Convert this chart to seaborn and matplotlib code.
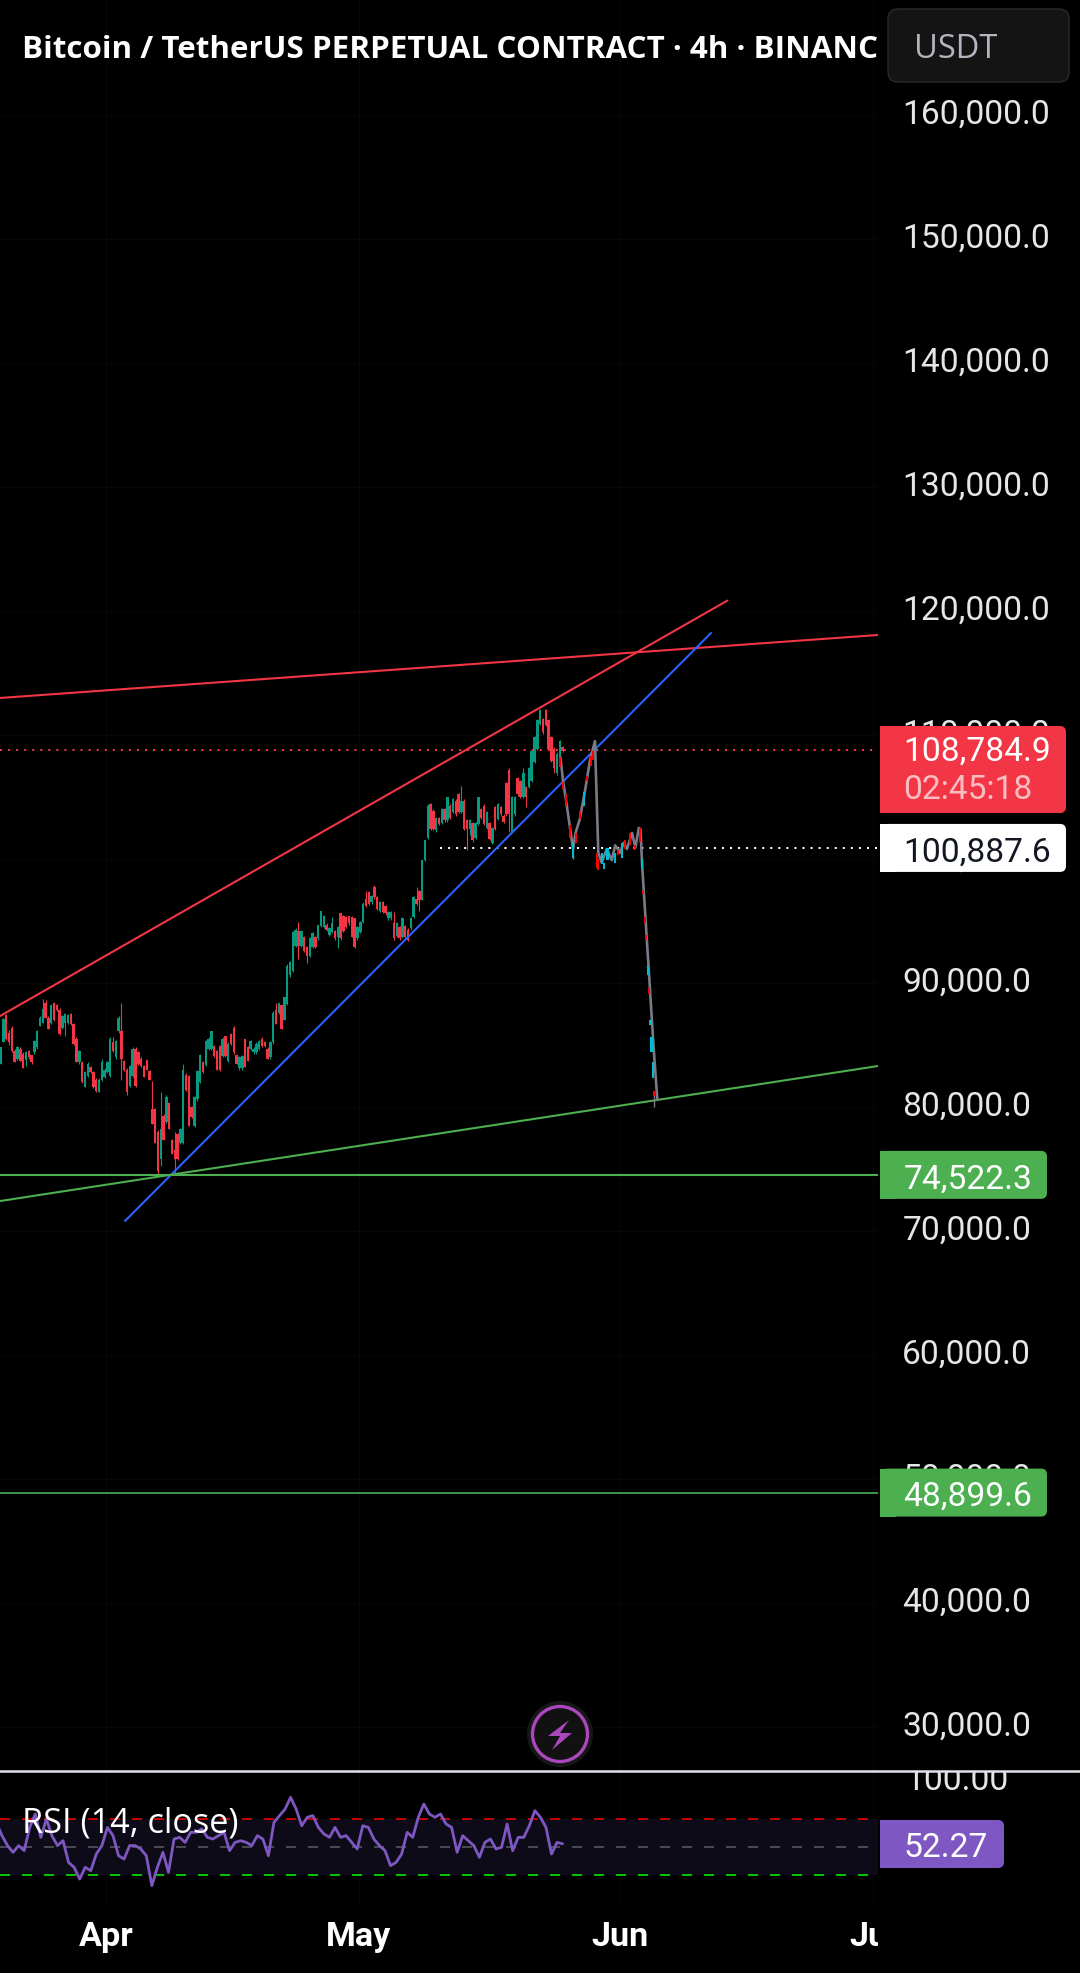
import matplotlib
matplotlib.use("Agg")
import matplotlib.pyplot as plt
import matplotlib.dates as mdates
from matplotlib.patches import Circle, FancyBboxPatch, Polygon, Rectangle
from matplotlib.transforms import ScaledTranslation
import numpy as np
import pandas as pd
import seaborn as sns

# Candle values in thousands of USDT
open_k = [
    83.5,85.2,87.4,86.0,86.4,84.5,83.9,84.7,84.3,83.8,
    84.5,84.2,84.4,84.8,86.5,86.8,88.4,87.2,86.8,88.4,
    88.2,87.8,86.4,86.8,86.8,87.5,86.7,85.5,83.6,83.6,
    81.6,82.5,83.2,82.8,82.2,81.2,82.2,82.4,82.8,82.5,
    85.2,84.0,86.1,86.1,83.7,83.0,81.7,82.5,84.7,84.4,
    83.9,83.3,83.8,82.9,79.8,79.8,78.0,75.8,79.3,78.8,
    80.3,77.3,76.5,77.8,77.1,77.1,82.6,82.5,80.0,78.5,
    80.6,82.0,83.6,83.4,84.7,84.7,84.9,84.5,84.9,84.1,
    85.7,83.7,85.9,86.4,84.2,83.1,83.1,85.5,84.8,84.7,
    84.4,84.4,84.7,85.5,85.2,84.7,84.0,85.2,87.8,87.6,
    88.2,87.0,88.3,90.6,91.0,93.0,94.2,93.0,93.7,92.9,
    92.2,92.9,93.7,93.6,94.6,94.5,94.7,93.9,94.1,94.2,
    93.7,95.6,95.4,95.3,95.4,95.3,95.2,93.6,94.1,94.9,
    96.8,97.3,96.5,97.7,96.9,95.8,96.5,96.2,95.2,95.2,
    94.8,93.8,94.5,93.7,94.6,94.3,94.4,95.3,96.8,97.4,
    96.7,99.9,101.7,104.4,103.9,102.3,103.3,102.9,104.0,103.1,
    104.3,103.8,104.7,105.2,103.8,104.7,103.1,102.4,102.9,101.7,
    102.8,104.0,104.3,102.5,102.9,101.3,104.2,103.2,104.2,103.5,
    106.1,107.2,102.2,103.6,106.5,106.3,105.0,105.8,105.8,106.3,
    107.8,108.9,110.9,111.3,112.0,111.2,109.8,108.9,106.9,107.9,109.0,
]
close_k = [
    84.8,87.1,85.5,85.2,84.5,83.6,84.8,83.7,83.1,84.4,
    84.0,83.6,85.3,86.1,87.2,87.9,87.2,86.3,88.2,87.0,
    87.8,85.9,87.3,87.5,87.4,86.7,85.1,83.6,84.5,82.0,
    82.8,83.5,82.8,81.6,81.3,82.2,83.6,83.0,83.6,85.5,
    84.5,85.3,87.2,83.9,83.0,81.2,83.3,84.7,81.7,83.5,
    83.3,82.4,83.0,82.2,78.6,77.1,74.8,78.2,77.3,80.8,
    78.2,76.2,75.8,75.8,78.2,83.0,81.4,78.5,79.2,80.8,
    82.9,84.2,82.8,85.3,85.5,86.1,84.1,83.0,83.0,85.5,
    84.1,85.1,85.1,84.4,83.5,84.0,84.1,83.2,83.7,85.3,
    84.7,85.1,85.3,84.9,84.9,83.9,85.2,87.6,86.7,88.4,
    86.3,88.9,91.4,91.7,94.1,94.3,93.0,94.2,92.6,92.2,
    93.6,94.0,92.9,94.7,95.8,95.4,94.3,94.4,94.8,93.6,
    94.5,93.6,94.2,94.5,94.8,93.7,92.9,94.5,94.9,96.4,
    96.2,96.4,97.0,96.9,96.0,96.5,95.7,95.6,95.7,95.7,
    93.6,94.8,93.6,95.2,93.7,93.5,95.2,96.9,96.4,96.7,
    99.9,101.5,104.3,102.4,102.4,103.3,102.8,104.0,103.1,105.0,
    103.3,104.8,103.6,103.8,104.7,102.4,102.4,103.1,101.5,102.9,
    105.0,103.3,102.8,103.8,101.6,102.5,102.4,104.4,103.6,103.0,
    103.6,103.6,105.0,105.0,105.2,105.0,106.9,105.0,107.3,108.7,
    109.8,111.2,112.0,110.2,110.8,108.9,107.9,107.3,108.5,109.5,108.7,
]
high_k = [
    84.8,87.2,87.5,86.2,86.5,84.7,84.9,84.8,84.4,84.5,
    84.6,84.2,85.4,86.2,87.3,88.7,88.6,87.3,88.3,88.5,
    88.3,88.0,87.4,87.6,87.5,87.6,86.8,85.6,84.6,83.7,
    82.9,83.6,83.3,82.9,82.3,82.3,83.9,83.1,83.7,85.6,
    85.6,85.4,87.3,88.4,83.8,83.1,83.4,84.8,84.8,84.5,
    84.0,83.4,83.8,83.0,82.1,79.9,78.1,81.2,79.4,81.0,
    80.4,77.4,78.0,77.9,78.3,83.5,82.7,82.6,80.1,80.9,
    83.0,84.3,83.7,85.4,85.6,86.1,85.0,84.6,85.0,85.6,
    85.7,85.2,86.0,86.5,84.3,84.1,84.2,85.5,84.9,85.4,
    84.8,85.2,85.4,85.6,85.3,84.8,85.3,87.7,88.4,88.4,
    88.2,88.9,91.5,91.8,94.2,94.4,94.9,94.3,93.8,93.0,
    93.7,94.1,93.8,94.7,95.8,95.5,94.8,94.5,95.3,94.3,
    94.6,95.6,95.5,95.4,95.4,95.4,95.2,94.6,95.0,96.5,
    97.4,97.4,97.1,97.9,97.0,96.6,96.6,96.3,95.8,95.8,
    95.7,94.9,94.6,95.3,94.7,94.4,95.3,97.0,97.7,97.5,
    99.9,101.5,104.4,104.5,104.0,103.4,103.4,104.1,104.1,105.0,
    104.4,104.9,104.8,105.3,105.9,104.8,103.2,103.2,103.0,103.0,
    105.0,104.1,104.4,103.9,103.0,102.6,104.3,104.5,104.3,103.6,
    106.2,107.3,105.1,105.1,106.6,106.4,107.3,105.9,107.4,108.8,
    109.9,111.3,112.1,111.4,112.1,111.3,109.9,109.0,108.6,109.6,109.1,
]
low_k = [
    83.5,85.2,85.4,85.0,84.4,83.6,83.8,83.7,83.1,83.3,
    83.9,83.5,84.3,84.7,86.5,86.8,87.2,86.3,86.7,86.9,
    87.7,85.8,86.3,85.7,86.7,86.6,85.0,83.6,83.5,81.9,
    81.6,82.4,82.7,81.5,81.2,81.2,82.1,82.3,82.7,82.4,
    84.4,83.9,86.0,82.2,82.9,81.0,81.6,82.4,81.6,83.4,
    83.2,82.4,83.0,82.2,78.6,77.1,74.6,75.2,77.3,78.7,
    78.2,76.2,74.6,75.7,77.0,77.0,81.3,78.5,79.1,78.4,
    80.5,81.9,82.7,83.3,84.6,84.6,84.0,83.0,82.9,84.0,
    84.0,83.6,85.0,84.3,83.5,83.0,83.0,83.2,83.7,84.6,
    84.3,84.3,84.6,84.8,84.8,83.9,83.9,85.1,86.7,87.5,
    86.3,87.0,88.2,90.5,90.9,92.9,91.9,92.9,92.5,91.6,
    92.1,92.8,92.8,93.5,94.5,94.4,94.2,93.8,94.0,93.5,
    92.8,93.5,94.1,94.4,94.7,93.7,92.8,93.5,94.0,94.8,
    96.1,96.3,96.4,96.8,95.9,95.7,95.6,95.5,95.1,95.1,
    93.5,93.7,93.5,93.6,93.6,93.4,94.3,95.2,96.3,95.8,
    96.7,99.8,101.6,102.3,102.3,102.2,102.7,102.8,103.0,103.0,
    103.2,103.7,103.5,103.7,103.7,102.3,100.7,101.9,101.4,101.6,
    102.7,103.2,102.7,102.4,101.5,101.2,102.3,103.1,103.5,102.9,
    103.5,102.2,102.2,103.5,105.1,104.9,104.9,104.2,105.7,106.2,
    107.7,108.8,110.8,110.1,110.7,108.8,107.8,106.9,106.8,107.8,108.6,
]

# Bar replay path: days since 1 April and price in thousands
replay_day = [53.9,54.2,54.6,55.0,55.4,55.7,56.2,56.8,57.4,58.0,58.4,
              58.8,59.4,60.0,60.4,61.0,61.4,61.8,62.4,62.8,63.2,
              63.4,63.6,63.8,64.0,64.2,64.4,64.6,64.8,65.0,65.4]
replay_k = [108.2,106.4,104.6,102.7,100.8,102.1,103.2,105.4,107.9,109.5,100.5,
            99.7,100.8,99.9,101.1,100.5,101.3,100.8,102.1,100.9,102.5,
            102.4,99.5,97.3,95.2,93.0,90.9,88.7,86.5,84.4,80.6]

# Replay candles shown over the path
replay_bar_day = [53.9,54.2,54.6,55.0,55.4,55.8,56.2,56.7,57.1,57.5,57.8,
                  58.2,58.4,58.8,59.1,59.5,60.4,60.7,61.2,61.6,62.2,62.8,63.3,
                  63.6,63.7,63.9,64.1,64.3,64.4,64.6,64.7,64.9,65.0]
replay_bar_open = [108.2,106.2,105.2,102.7,100.1,102.1,103.9,104.3,106.7,108.3,108.7,
                   100.5,100.0,99.6,99.2,99.9,99.7,100.7,100.1,101.5,102.1,101.1,102.5,
                   99.2,97.4,95.3,93.9,90.6,89.6,86.6,84.4,82.3,81.3]
replay_bar_close = [107.4,105.6,104.3,101.7,101.3,101.3,103.2,105.4,106.3,107.5,108.0,
                    99.3,99.1,100.5,99.7,100.9,100.5,100.3,101.3,100.8,101.1,100.7,101.4,
                    100.0,97.2,94.8,93.5,91.4,89.1,87.0,85.6,83.6,80.9]
replay_wick_day = [55.4, 58.0, 65.0]
replay_wick_low = [100.0, 108.6, 80.0]
replay_wick_high = [101.3, 109.5, 81.3]

# Drawn trend lines: days since 1 April and price in thousands
red_top_day, red_top_k = [-12.57, 91.57], [112.98, 118.06]
red_wedge_day, red_wedge_k = [-12.57, 73.7], [87.33, 120.83]
blue_day, blue_k = [2.25, 71.77], [70.8, 118.22]
green_day, green_k = [-12.57, 91.57], [72.41, 83.3]

last_price = 108784.9
countdown = "02:45:18"
level_white = 100887.6
level_green_hi = 74522.3
level_green_lo = 48899.6
price_ticks = [30000, 40000, 50000, 60000, 70000, 80000, 90000, 100000,
               110000, 120000, 130000, 140000, 150000, 160000]

rsi_values = [
    67.6,58.1,51.0,46.2,51.0,47.4,64.0,73.6,56.9,70.0,58.1,51.0,54.5,39.0,35.5,27.1,35.5,33.1,
    45.0,51.0,64.0,58.1,43.8,41.4,51.0,51.0,48.6,43.8,22.4,35.5,46.2,31.9,55.7,56.9,53.3,60.5,
    60.5,62.9,56.9,55.7,58.1,60.5,47.4,53.3,54.5,53.3,51.0,58.1,55.7,43.8,67.6,72.4,77.1,85.5,
    77.1,65.2,71.2,72.4,64.0,59.3,56.9,64.0,56.9,58.1,53.3,48.6,65.2,64.0,55.7,51.0,47.4,36.7,
    39.0,45.0,60.5,56.9,71.2,80.7,73.6,71.2,73.6,66.4,64.0,46.2,58.1,54.5,51.0,42.6,53.3,55.7,
    48.6,49.8,66.4,47.4,56.9,56.9,65.2,76.0,71.2,64.0,45.0,53.3,52.27,
]
rsi_upper, rsi_middle, rsi_lower = 70, 50, 30

date_ticks = ["2025-04-01", "2025-05-01", "2025-06-01", "2025-07-01"]

# Colours
C_UP, C_DOWN = "#089981", "#F23645"
C_BLUE, C_GREEN = "#2962FF", "#4CAF50"
C_REPLAY = "#787B86"
C_REPLAY_UP, C_REPLAY_DOWN = "#00BCD4", "#FF0000"
C_RSI = "#7E57C2"
C_TEXT = "#E6E6E6"
C_GRID = "#070707"

W, H = 1080, 1974
PANE_W, SEP_Y, RSI_BOTTOM = 878, 1772, 1905
PX_PER_USDT = 0.0124
PX_PER_RSI = 1.4
AXIS_FONT = 24.2

sns.set_theme(style="dark", rc={
    "figure.facecolor": "black", "axes.facecolor": "black", "savefig.facecolor": "black",
    "axes.edgecolor": "black", "text.color": "white",
})
plt.rcParams["font.family"] = ["Roboto", "DejaVu Sans"]

base = pd.Timestamp(date_ticks[0])
to_time = lambda days: base + pd.to_timedelta(np.asarray(days, dtype=float), unit="D")
x_left = mdates.date2num(base) - 106 / 8.43
x_right = mdates.date2num(base) + (PANE_W - 106) / 8.43

fig = plt.figure(figsize=(W / 100, H / 100), dpi=100)
ax = fig.add_axes([0, 1 - SEP_Y / H, PANE_W / W, SEP_Y / H])
rsi_ax = fig.add_axes([0, 1 - RSI_BOTTOM / H, PANE_W / W, (RSI_BOTTOM - SEP_Y - 2) / H], sharex=ax)
over = fig.add_axes([0, 0, 1, 1], zorder=10)
over.set_xlim(0, W)
over.set_ylim(H, 0)
over.axis("off")
over.patch.set_alpha(0)

# Price pane
ax.set_ylim(last_price - (SEP_Y - 751) / PX_PER_USDT, last_price + 751 / PX_PER_USDT)
ax.set_xlim(x_left, x_right)
bar_time = pd.date_range("2025-03-19 12:00", periods=len(open_k), freq="8h")
candles = pd.DataFrame({"time": bar_time, "open": np.array(open_k) * 1000, "close": np.array(close_k) * 1000,
                        "high": np.array(high_k) * 1000, "low": np.array(low_k) * 1000})
candle_colors = np.where(candles["close"] >= candles["open"], C_UP, C_DOWN)
ax.vlines(candles["time"], candles["low"], candles["high"], colors=candle_colors, lw=0.8, zorder=3)
ax.bar(candles["time"], candles["close"] - candles["open"], bottom=candles["open"], width=0.29,
       color=candle_colors, linewidth=0, zorder=3)


def trend(days, prices_k, color):
    sns.lineplot(x=to_time(days), y=np.array(prices_k) * 1000, ax=ax, color=color, lw=1.5,
                 sort=False, estimator=None, zorder=5)


trend(red_top_day, red_top_k, C_DOWN)
trend(red_wedge_day, red_wedge_k, C_DOWN)
trend(blue_day, blue_k, C_BLUE)
trend(green_day, green_k, C_GREEN)
ax.axhline(level_green_hi, color=C_GREEN, lw=1.5, zorder=5)
ax.axhline(level_green_lo, color=C_GREEN, lw=1.2, zorder=5)
ax.axhline(last_price, color=C_DOWN, lw=1.45, ls=(0, (1, 3)), zorder=4)
ax.plot([to_time([(440 - 106) / 8.43])[0], to_time([(PANE_W - 106) / 8.43])[0]], [level_white] * 2,
        color="white", lw=1.45, ls=(0, (1, 3)), zorder=4)

# Replay overlay
replay_time = to_time(replay_day)
replay_colors = np.where(np.array(replay_bar_close) >= np.array(replay_bar_open), C_REPLAY_UP, C_REPLAY_DOWN)
ax.bar(to_time(replay_bar_day), (np.array(replay_bar_close) - np.array(replay_bar_open)) * 1000,
       bottom=np.array(replay_bar_open) * 1000, width=0.26, color=replay_colors, linewidth=0, zorder=7)
sns.lineplot(x=replay_time, y=np.array(replay_k) * 1000, ax=ax, color=C_REPLAY, lw=1.9,
             sort=False, estimator=None, zorder=6)
ax.vlines(to_time(replay_wick_day), np.array(replay_wick_low) * 1000, np.array(replay_wick_high) * 1000,
          colors=C_REPLAY, lw=1.0, zorder=6)

ax.set_yticks(price_ticks)
ax.set_yticklabels([f"{v:,.1f}" for v in price_ticks])
ax.yaxis.tick_right()
ax.tick_params(axis="y", length=0, pad=17.5, labelsize=AXIS_FONT, labelcolor=C_TEXT)
ax.tick_params(axis="x", length=0, labelbottom=False)
ax.grid(True, color=C_GRID, lw=0.8)
ax.set_axisbelow(True)
for lab in ax.get_yticklabels():
    lab.set_transform(lab.get_transform() + ScaledTranslation(0, 0.05, fig.dpi_scale_trans))
sns.despine(ax=ax, left=True, right=True, top=True, bottom=True)

# RSI pane
rsi_ax.set_ylim(rsi_upper - (RSI_BOTTOM - 1820) / PX_PER_RSI, rsi_upper + (1820 - SEP_Y - 2) / PX_PER_RSI)
rsi_ax.axhspan(rsi_lower, rsi_upper, color="#0E0B18", lw=0, zorder=1)
dash_end = x_left + (868 / 8.43)
for level, color in ((rsi_upper, "#FF0000"), (rsi_middle, "#5A5C66"), (rsi_lower, "#00FF00")):
    rsi_ax.plot([x_left, dash_end], [level, level], color=color, lw=1.1, ls=(0, (6.6, 7.8)),
                zorder=2)
rsi_time = pd.date_range(bar_time[0] - pd.Timedelta(hours=12), bar_time[-1], periods=len(rsi_values))
sns.lineplot(x=rsi_time, y=rsi_values, ax=rsi_ax, color=C_RSI, lw=2.0, sort=False, estimator=None, zorder=4)
rsi_ax.set_xlim(x_left, x_right)
rsi_ax.set_yticks([100])
rsi_ax.set_yticklabels(["100.00"])
rsi_ax.yaxis.tick_right()
rsi_ax.tick_params(axis="y", length=0, pad=19.5, labelsize=AXIS_FONT, labelcolor=C_TEXT)
rsi_ax.set_xticks([mdates.date2num(pd.Timestamp(d)) for d in date_ticks])
rsi_ax.xaxis.set_major_formatter(mdates.DateFormatter("%b"))
rsi_ax.tick_params(axis="x", length=0, pad=11.5, labelsize=24.6, labelcolor="white")
for lab in rsi_ax.get_xticklabels():
    lab.set_fontweight("bold")
rsi_ax.grid(True, axis="x", color=C_GRID, lw=0.8)
rsi_ax.set_xlabel("")
rsi_ax.set_ylabel("")
ax.set_xlabel("")
ax.set_ylabel("")
sns.despine(ax=rsi_ax, left=True, right=True, top=True, bottom=True)

# Masks that crop axis text at the pane edges
over.add_patch(Rectangle((PANE_W, RSI_BOTTOM), W - PANE_W, H - RSI_BOTTOM, color="black", lw=0))
over.add_patch(Rectangle((PANE_W + 2, 1745), W - PANE_W - 2, SEP_Y - 1745, color="black", lw=0))
over.plot([0, W], [SEP_Y, SEP_Y], color="#E0E3EB", lw=1.8)


def price_px(value):
    return H - ax.transData.transform((x_left, value))[1]


def tag(y0, y1, x1, color):
    # Axis label box: square on the pane side, rounded on the outer side
    over.add_patch(FancyBboxPatch((PANE_W + 2 + 8, y0 + 6), x1 - PANE_W - 2 - 14, y1 - y0 - 12,
                                  boxstyle="round,pad=6,rounding_size=6", fc=color, ec="none", zorder=2))
    over.add_patch(Rectangle((PANE_W + 2, y0), 16, y1 - y0, fc=color, ec="none", zorder=2))


def tag_text(y, text, color, alpha=1.0):
    over.text(903.5, y, text, color=color, alpha=alpha, fontsize=AXIS_FONT, ha="left",
              va="center_baseline", zorder=3)


y_last = price_px(last_price)
tag(y_last - 24, y_last + 63, 1066, C_DOWN)
tag_text(y_last - 3, f"{last_price:,.1f}", "white")
tag_text(y_last + 35, countdown, "white", alpha=0.68)

y_white = price_px(level_white)
tag(y_white - 24, y_white + 24, 1066, "white")
tag_text(y_white, f"{level_white:,.1f}", "#131722")

for level in (level_green_hi, level_green_lo):
    y_level = price_px(level)
    tag(y_level - 24, y_level + 24, 1047, C_GREEN)
    tag_text(y_level, f"{level:,.1f}", "white")

y_rsi = 1820 + (rsi_upper - rsi_values[-1]) * PX_PER_RSI
tag(1821, 1869, 1004, C_RSI)
tag_text(y_rsi, f"{rsi_values[-1]:.2f}", "white")

# Titles and controls
ax.text(0.0245, 1 - 46 / SEP_Y, "Bitcoin / TetherUS PERPETUAL CONTRACT · 4h · BINANCE",
        transform=ax.transAxes, family="Open Sans", fontweight="bold", fontsize=22.6,
        color="white", ha="left", va="center_baseline", clip_on=True, zorder=9)
over.text(22, 1820, "RSI (14, close)", family="Open Sans", fontsize=24.7, color="white",
          ha="left", va="center_baseline", zorder=6)
over.add_patch(FancyBboxPatch((898, 20), 161, 53, boxstyle="round,pad=10,rounding_size=10",
                              fc="#141414", ec="#2B2B2B", lw=1.0))
over.text(914, 46, "USDT", color="#B2B5BE", fontsize=23.5, family="Open Sans", ha="left", va="center_baseline")

# Replay button
over.add_patch(Circle((560, 1735), 33, fc="#161616", ec="none", zorder=3))
over.add_patch(Circle((560, 1735), 27.5, fc="#111111", ec="#AB47BC", lw=2.4, zorder=4))
bolt = [(569, 1721), (548, 1737), (560, 1737), (552, 1751), (572, 1734), (560, 1734)]
over.add_patch(Polygon(bolt, closed=True, fc="#AB47BC", ec="none", zorder=5))

fig.savefig("out.png", dpi=100, facecolor="black")
